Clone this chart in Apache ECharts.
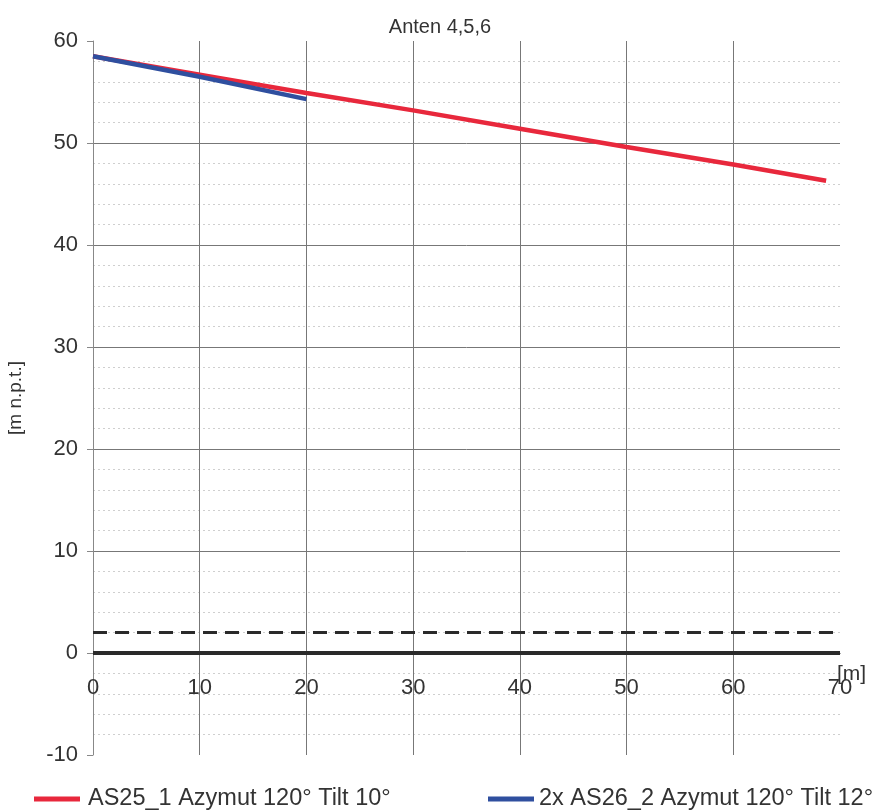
<!DOCTYPE html>
<html>
<head>
<meta charset="utf-8">
<script src="https://cdn.jsdelivr.net/npm/echarts@6/dist/echarts.min.js"></script>
<style>
  html, body { margin: 0; padding: 0; background: #fff; }
  #chart { width: 874px; height: 811px; }
</style>
</head>
<body>
<div id="chart"></div>
<script>
// dane
const seriesNames = ['AS25_1 Azymut 120° Tilt 10°', '2x AS26_2 Azymut 120° Tilt 12°'];
const redLine = [[0, 58.5], [10, 56.7], [20, 54.9], [30, 53.2], [40, 51.4], [50, 49.6], [60, 47.9], [68.7, 46.3]];
const blueLine = [[0, 58.5], [10, 56.5], [20, 54.3]];
const groundLine = [[0, 0], [70, 0]];
const dashedLine = [[0, 2], [70, 2]];

const font = 'Liberation Sans, Arial, sans-serif';

const chart = echarts.init(document.getElementById('chart'));

const option = {
  animation: false,
  textStyle: { fontFamily: font },
  title: {
    text: 'Anten 4,5,6',
    left: 435,
    textAlign: 'center',
    top: 12,
    textStyle: { fontFamily: font, fontWeight: 'normal', fontSize: 20, color: '#333' }
  },
  grid: { left: 93, right: 34, top: 41, bottom: 56, outerBoundsMode: 'none', containLabel: false },
  legend: [
    {
      data: [seriesNames[0]],
      left: 29, top: 782,
      icon: 'rect', itemWidth: 46, itemHeight: 5, itemGap: 0,
      textStyle: { fontFamily: font, fontSize: 23.5, color: '#333', padding: [0, 0, 0, 3] }
    },
    {
      data: [seriesNames[1]],
      left: 483, top: 782,
      icon: 'rect', itemWidth: 46, itemHeight: 5, itemGap: 0,
      textStyle: { fontFamily: font, fontSize: 23.5, color: '#333', padding: [0, 0, 0, 0] }
    }
  ],
  xAxis: {
    type: 'value',
    min: 0, max: 70, interval: 10,
    position: 'bottom',
    offset: -102, // oś x przechodzi przez 0 m
    name: '[m]',
    nameLocation: 'end',
    nameGap: -3,
    nameMoveOverlap: false,
    nameTextStyle: { fontFamily: font, fontSize: 21, color: '#333', align: 'left', verticalAlign: 'top', padding: [11, 0, 0, 0] },
    axisLine: { onZero: false, lineStyle: { color: '#222', width: 1 } },
    axisTick: { show: false },
    axisLabel: { fontFamily: font, fontSize: 22, color: '#333', margin: 24 },
    splitLine: { show: true, showMaxLine: false, lineStyle: { color: '#777', width: 1 } }
  },
  yAxis: {
    type: 'value',
    min: -10, max: 60, interval: 10,
    name: '[m n.p.t.]',
    nameLocation: 'middle',
    nameGap: 68,
    nameTextStyle: { fontFamily: font, fontSize: 19, color: '#333' },
    axisLine: { show: true, onZero: false, lineStyle: { color: '#888', width: 1 } },
    axisTick: { show: true, length: 6, lineStyle: { color: '#888' } },
    axisLabel: { fontFamily: font, fontSize: 22, color: '#333', margin: 15 },
    splitLine: { show: true, showMinLine: false, showMaxLine: false, lineStyle: { color: '#777', width: 1 } },
    minorTick: { show: false, splitNumber: 5 },
    minorSplitLine: { show: true, lineStyle: { color: '#cfcfcf', width: 1, type: [2, 3] } }
  },
  series: [
    {
      name: 'ground',
      type: 'line',
      data: groundLine,
      showSymbol: false,
      lineStyle: { color: '#2a2a2a', width: 4 },
      silent: true
    },
    {
      name: 'dashed',
      type: 'line',
      data: dashedLine,
      showSymbol: false,
      lineStyle: { color: '#2a2a2a', width: 3, type: [14, 8] },
      silent: true
    },
    {
      name: seriesNames[0],
      type: 'line',
      data: redLine,
      showSymbol: false,
      itemStyle: { color: '#e8283c' },
      lineStyle: { color: '#e8283c', width: 4.5 }
    },
    {
      name: seriesNames[1],
      type: 'line',
      data: blueLine,
      showSymbol: false,
      itemStyle: { color: '#2f4f9f' },
      lineStyle: { color: '#2f4f9f', width: 4.5 }
    }
  ]
};

chart.setOption(option);
</script>
</body>
</html>
